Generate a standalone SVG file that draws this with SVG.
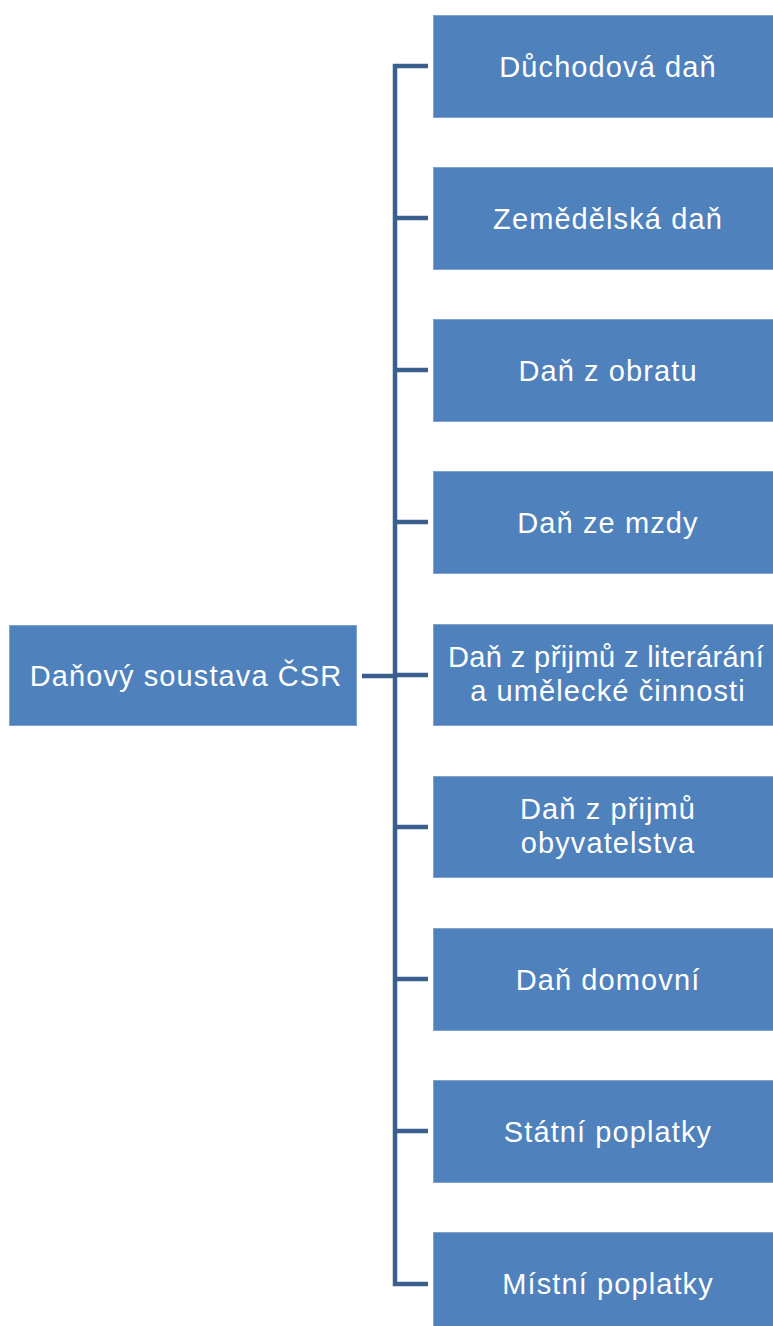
<svg xmlns="http://www.w3.org/2000/svg" width="773" height="1326" viewBox="0 0 773 1326">
<style>
.box{fill:#4F81BD;stroke:#7FA2CE;stroke-width:1}
.t{font-family:"Liberation Sans",Arial,sans-serif;font-size:29px;letter-spacing:1.1px;fill:#FFFFFF;text-anchor:middle}
.c{stroke:#3A5F8F;stroke-width:4.5;fill:none;stroke-linecap:butt}
</style>
<rect width="773" height="1326" fill="#FFFFFF"/>
<g id="connectors">
<path class="c" d="M362 676 H395"/>
<path class="c" d="M428 66 H395 V1284 H428"/>
<path class="c" d="M395 218 H428 M395 370 H428 M395 522 H428 M395 675 H428 M395 827 H428 M395 979 H428 M395 1131 H428"/>
</g>
<g id="root"><rect class="box" x="9.5" y="625.5" width="347" height="100"/><text class="t" x="186" y="686">Daňový soustava ČSR</text></g>
<g id="n1"><rect class="box" x="433.5" y="15.5" width="350" height="102"/><text class="t" x="608" y="77">Důchodová daň</text></g>
<g id="n2"><rect class="box" x="433.5" y="167.5" width="350" height="102"/><text class="t" x="608" y="229">Zemědělská daň</text></g>
<g id="n3"><rect class="box" x="433.5" y="319.5" width="350" height="102"/><text class="t" x="608" y="381">Daň z obratu</text></g>
<g id="n4"><rect class="box" x="433.5" y="471.5" width="350" height="102"/><text class="t" x="608" y="533">Daň ze mzdy</text></g>
<g id="n5"><rect class="box" x="433.5" y="624.5" width="350" height="101"/><text class="t" x="606" y="667" style="letter-spacing:0.4px">Daň z přijmů z literárání</text><text class="t" x="608" y="701">a umělecké činnosti</text></g>
<g id="n6"><rect class="box" x="433.5" y="776.5" width="350" height="101"/><text class="t" x="608" y="819">Daň z přijmů</text><text class="t" x="608" y="853">obyvatelstva</text></g>
<g id="n7"><rect class="box" x="433.5" y="928.5" width="350" height="102"/><text class="t" x="608" y="990">Daň domovní</text></g>
<g id="n8"><rect class="box" x="433.5" y="1080.5" width="350" height="102"/><text class="t" x="608" y="1142">Státní poplatky</text></g>
<g id="n9"><rect class="box" x="433.5" y="1232.5" width="350" height="102"/><text class="t" x="608" y="1294">Místní poplatky</text></g>
</svg>
